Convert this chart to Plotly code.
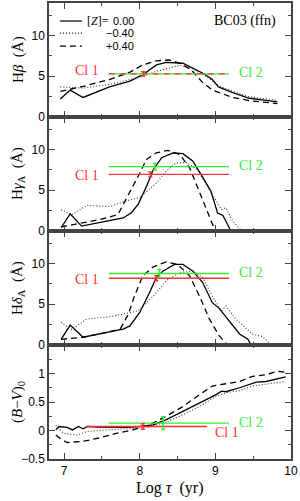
import plotly.graph_objects as go
from plotly.subplots import make_subplots

# ---------------- data ----------------
# H beta
hb_sol_x = [6.95, 7.08, 7.25, 7.6, 7.87, 8.04, 8.22, 8.35, 8.57, 8.7, 8.83, 8.96, 9.04, 9.23, 9.45, 9.67, 9.82]
hb_sol_y = [2.2, 3.3, 2.4, 3.7, 4.4, 5.2, 6.4, 6.7, 6.6, 6.0, 5.4, 4.6, 3.7, 3.0, 2.3, 2.05, 1.85]
hb_dot_x = [6.95, 7.25, 7.6, 8.0, 8.22, 8.53, 8.68, 8.88, 9.04, 9.23, 9.45, 9.82]
hb_dot_y = [3.7, 3.55, 4.0, 4.9, 5.6, 6.35, 6.0, 5.0, 3.85, 3.15, 2.5, 2.05]
hb_das_x = [6.95, 7.25, 7.6, 7.87, 8.04, 8.22, 8.39, 8.53, 8.68, 8.83, 8.96, 9.23, 9.45, 9.82]
hb_das_y = [3.15, 3.75, 4.6, 5.5, 6.4, 6.9, 7.0, 6.6, 5.8, 4.25, 3.3, 2.4, 2.0, 1.65]

# H gamma A
hg_sol_x = [6.96, 7.08, 7.23, 7.47, 7.78, 7.89, 7.98, 8.09, 8.18, 8.29, 8.44, 8.57, 8.7, 8.81, 8.94, 9.03, 9.1, 9.2, 9.21]
hg_sol_y = [0.4, 2.1, 0.6, 1.0, 1.6, 2.25, 3.3, 5.5, 7.55, 9.0, 9.6, 9.5, 8.6, 6.95, 4.9, 2.2, 1.9, 0.1, 0.0]
hg_dot_x = [6.96, 7.1, 7.3, 7.6, 7.82, 8.0, 8.22, 8.35, 8.48, 8.61, 8.76, 8.88, 9.0, 9.08, 9.14, 9.23, 9.33]
hg_dot_y = [2.6, 2.0, 3.15, 3.0, 3.7, 4.1, 5.9, 7.35, 8.35, 8.45, 7.55, 5.7, 3.9, 2.65, 2.85, 1.2, 0.2]
hg_das_x = [6.96, 7.25, 7.47, 7.71, 7.82, 7.91, 8.0, 8.09, 8.22, 8.37, 8.53, 8.66, 8.79, 8.92, 8.99]
hg_das_y = [0.5, 1.0, 1.4, 2.0, 3.9, 5.5, 7.1, 8.8, 9.6, 9.9, 9.4, 7.75, 4.7, 1.85, 0.2]

# H delta A
hd_sol_x = [6.96, 7.08, 7.25, 7.47, 7.78, 7.87, 8.0, 8.13, 8.22, 8.31, 8.46, 8.57, 8.7, 8.83, 8.96, 9.05, 9.18, 9.32, 9.43, 9.47]
hd_sol_y = [0.7, 2.45, 0.95, 1.35, 1.95, 2.35, 4.0, 6.45, 8.3, 9.1, 9.9, 9.9, 9.1, 7.7, 5.2, 4.5, 3.0, 1.35, 0.7, 0.0]
hd_dot_x = [6.96, 7.1, 7.3, 7.56, 7.78, 7.98, 8.18, 8.35, 8.53, 8.7, 8.83, 8.96, 9.08, 9.14, 9.27, 9.49, 9.62, 9.73]
hd_dot_y = [2.8, 1.9, 3.2, 3.4, 3.8, 4.2, 6.0, 7.9, 8.9, 9.1, 8.3, 6.0, 4.2, 4.8, 3.2, 1.35, 1.05, 0.1]
hd_das_x = [6.96, 7.25, 7.56, 7.74, 7.85, 7.93, 8.04, 8.18, 8.35, 8.5, 8.66, 8.79, 8.92, 9.05, 9.16]
hd_das_y = [0.7, 0.95, 1.55, 1.95, 3.8, 6.0, 8.5, 9.6, 10.2, 9.9, 8.5, 6.0, 3.2, 1.15, 0.0]

# (B-V)_0
bv_sol_x = [6.89, 6.93, 7.04, 7.11, 7.19, 7.25, 7.31, 7.47, 7.82, 8.0, 8.18, 8.35, 8.53, 8.7, 8.88, 9.01, 9.08, 9.14, 9.32, 9.45, 9.54, 9.67, 9.93]
bv_sol_y = [0.01, 0.07, 0.055, 0.01, 0.07, 0.03, 0.07, 0.06, 0.055, 0.07, 0.1, 0.19, 0.31, 0.42, 0.54, 0.63, 0.69, 0.68, 0.75, 0.81, 0.85, 0.86, 0.94]
bv_dot_x = [6.89, 6.99, 7.17, 7.3, 7.56, 7.82, 8.09, 8.31, 8.53, 8.79, 9.01, 9.14, 9.32, 9.49, 9.67, 9.93]
bv_dot_y = [0.09, -0.05, -0.08, -0.02, 0.01, 0.025, 0.05, 0.13, 0.25, 0.42, 0.6, 0.66, 0.7, 0.78, 0.81, 0.86]
bv_das_x = [6.89, 6.97, 7.04, 7.25, 7.47, 7.69, 7.91, 8.13, 8.35, 8.57, 8.79, 8.96, 9.14, 9.32, 9.49, 9.67, 9.82, 9.93]
bv_das_y = [-0.08, -0.16, -0.21, -0.19, -0.13, -0.05, 0.01, 0.1, 0.25, 0.42, 0.63, 0.78, 0.82, 0.86, 0.95, 0.98, 1.04, 1.02]

# cluster measurements: [Hbeta, Hgamma_A, Hdelta_A, (B-V)0]
cl1_val = [5.3, 6.95, 8.2, 0.07]
cl1_err = [0.25, 0.3, 0.3, 0.05]
cl1_age = [8.05, 8.14, 8.22, 8.04]
cl1_xrange = [[7.59, 9.18], [7.59, 9.18], [7.59, 9.18], [7.29, 8.89]]
cl2_val = [5.3, 7.9, 8.78, 0.13]
cl2_err = [0.25, 0.4, 0.5, 0.11]
cl2_age = [8.04, 8.2, 8.26, 8.31]
cl2_xrange = [[7.59, 9.18], [7.59, 9.18], [7.59, 9.18], [7.59, 9.18]]

x_ticks = [7, 8, 9, 10]
ylabels = ["H<i>β</i>  (Å)", "H<i>γ</i><sub>A</sub>  (Å)", "H<i>δ</i><sub>A</sub>  (Å)", "(<i>B</i>−<i>V</i>)<sub>0</sub>"]
yranges = [[0, 14], [0, 14], [0, 14], [-0.5, 1.5]]
ytickv = [[0, 5, 10], [0, 5, 10], [0, 5, 10], [-0.5, 0, 0.5, 1]]
ytickt = [["0", "5", "10"], ["0", "5", "10"], ["0", "5", "10"], ["−0.5", "0", "0.5", "1"]]
yminor = [2.5, 2.5, 2.5, 0.25]
legend_labels = ["0.00", "−0.40", "+0.40"]

# ---------------- figure ----------------
RED = "#ff3333"
GREEN = "#33ee33"
SERIF = "Liberation Serif"
SANS = "Liberation Sans"
AXC = "#444444"

fig = make_subplots(rows=4, cols=1, shared_xaxes=True, vertical_spacing=0)

series = [
    (hb_sol_x, hb_sol_y, hb_dot_x, hb_dot_y, hb_das_x, hb_das_y),
    (hg_sol_x, hg_sol_y, hg_dot_x, hg_dot_y, hg_das_x, hg_das_y),
    (hd_sol_x, hd_sol_y, hd_dot_x, hd_dot_y, hd_das_x, hd_das_y),
    (bv_sol_x, bv_sol_y, bv_dot_x, bv_dot_y, bv_das_x, bv_das_y),
]

for i, (sx, sy, dx, dy, ax, ay) in enumerate(series):
    r = i + 1
    fig.add_trace(go.Scatter(x=sx, y=sy, mode="lines", line=dict(color="black", width=1.3),
                             showlegend=False, hoverinfo="skip"), row=r, col=1)
    fig.add_trace(go.Scatter(x=dx, y=dy, mode="lines", line=dict(color="#333333", width=1.1, dash="1px,2px"),
                             showlegend=False, hoverinfo="skip"), row=r, col=1)
    fig.add_trace(go.Scatter(x=ax, y=ay, mode="lines", line=dict(color="black", width=1.3, dash="6px,4px"),
                             showlegend=False, hoverinfo="skip"), row=r, col=1)
    fig.add_trace(go.Scatter(x=cl2_xrange[i], y=[cl2_val[i]] * 2, mode="lines",
                             line=dict(color=GREEN, width=1.3), showlegend=False, hoverinfo="skip"), row=r, col=1)
    same = abs(cl1_val[i] - cl2_val[i]) < 1e-6
    fig.add_trace(go.Scatter(x=cl1_xrange[i], y=[cl1_val[i]] * 2, mode="lines",
                             line=dict(color=RED, width=1.3, dash="6px,5px" if same else "solid"),
                             showlegend=False, hoverinfo="skip"), row=r, col=1)
    fig.add_trace(go.Scatter(x=[cl2_age[i]], y=[cl2_val[i]], mode="markers",
                             marker=dict(size=1, color=GREEN),
                             error_y=dict(type="data", array=[cl2_err[i]], color=GREEN, thickness=1.5, width=2),
                             showlegend=False, hoverinfo="skip"), row=r, col=1)
    fig.add_trace(go.Scatter(x=[cl1_age[i]], y=[cl1_val[i]], mode="markers",
                             marker=dict(size=1, color=RED),
                             error_y=dict(type="data", array=[cl1_err[i]], color=RED, thickness=1.5, width=2),
                             showlegend=False, hoverinfo="skip"), row=r, col=1)

for i in range(4):
    r = i + 1
    fig.update_xaxes(range=[6.8, 10], tickvals=x_ticks, ticktext=[str(v) for v in x_ticks],
                     showticklabels=(r == 4), ticks="inside", ticklen=6, tickwidth=1.2, tickcolor=AXC,
                     minor=dict(dtick=0.5, tick0=0, ticks="inside", ticklen=3, tickcolor=AXC, tickwidth=1),
                     showline=True, linecolor=AXC, linewidth=1.5, mirror="allticks", showgrid=False,
                     zeroline=False, automargin=False,
                     tickfont=dict(family=SANS, size=12, color="black"), row=r, col=1)
    fig.update_yaxes(range=yranges[i], tickvals=ytickv[i], ticktext=ytickt[i],
                     ticks="inside", ticklen=6, tickwidth=1.2, tickcolor=AXC,
                     minor=dict(dtick=yminor[i], tick0=0, ticks="inside", ticklen=3, tickcolor=AXC, tickwidth=1),
                     showline=True, linecolor=AXC, linewidth=1.5, mirror="allticks", showgrid=False,
                     zeroline=False, automargin=False,
                     tickfont=dict(family=SANS, size=12, color="black"), row=r, col=1)

annotations = []
yrefs = ["y domain", "y2 domain", "y3 domain", "y4 domain"]
xrefs = ["x", "x2", "x3", "x4"]
for i in range(4):
    annotations.append(dict(text=ylabels[i], xref="paper", yref=yrefs[i], x=-0.128, y=0.5,
                            textangle=-90, showarrow=False, xanchor="center", yanchor="middle",
                            font=dict(family=SERIF, size=15, color="black")))

lab_font = dict(family=SERIF, size=14)
for i in range(3):
    annotations.append(dict(text="Cl 1", xref=xrefs[i], yref=yrefs[i].replace(" domain", ""),
                            x=7.49, y=cl1_val[i], xanchor="right", yanchor="middle", showarrow=False,
                            yshift=3 if i == 0 else -1, font=dict(color=RED, **lab_font)))
    annotations.append(dict(text="Cl 2", xref=xrefs[i], yref=yrefs[i].replace(" domain", ""),
                            x=9.29, y=cl2_val[i], xanchor="left", yanchor="middle", showarrow=False,
                            yshift=1, font=dict(color=GREEN, **lab_font)))
annotations.append(dict(text="Cl 1", xref="x4", yref="y4", x=8.97, y=cl1_val[3], xanchor="left",
                        yanchor="middle", showarrow=False, yshift=-6, font=dict(color=RED, **lab_font)))
annotations.append(dict(text="Cl 2", xref="x4", yref="y4", x=9.29, y=cl2_val[3], xanchor="left",
                        yanchor="middle", showarrow=False, yshift=1, font=dict(color=GREEN, **lab_font)))

annotations.append(dict(text="Log <i>τ</i>  (yr)", xref="paper", yref="paper", x=0.5, y=-0.064,
                        xanchor="center", yanchor="middle", showarrow=False,
                        font=dict(family=SERIF, size=16, color="black")))

leg_y = [0.842, 0.735, 0.622]
leg_dash = ["solid", "1px,2px", "6px,4px"]
shapes = []
for k in range(3):
    shapes.append(dict(type="line", xref="x domain", yref="y domain", x0=0.045, x1=0.136,
                       y0=leg_y[k], y1=leg_y[k], line=dict(color="black", width=1.2, dash=leg_dash[k])))
    annotations.append(dict(text=legend_labels[k], xref="x domain", yref="y domain", x=0.36, y=leg_y[k],
                            xanchor="right", yanchor="middle", showarrow=False,
                            font=dict(family=SANS, size=11, color="black")))
annotations.append(dict(text="[<i>Z</i>]=", xref="x domain", yref="y domain", x=0.15, y=leg_y[0],
                        xanchor="left", yanchor="middle", showarrow=False,
                        font=dict(family=SERIF, size=12, color="black")))
annotations.append(dict(text="BC03 (ffn)", xref="x domain", yref="y domain", x=0.945, y=leg_y[0],
                        xanchor="right", yanchor="middle", showarrow=False,
                        font=dict(family=SERIF, size=14, color="black")))

fig.update_layout(width=300, height=501, margin=dict(l=49, r=9, t=3, b=42, autoexpand=False),
                  plot_bgcolor="white", paper_bgcolor="white",
                  annotations=annotations, shapes=shapes, showlegend=False)

fig.write_html("out.html", config={"displayModeBar": False},
               post_script="document.body.style.margin='0';document.body.style.overflow='hidden';")
